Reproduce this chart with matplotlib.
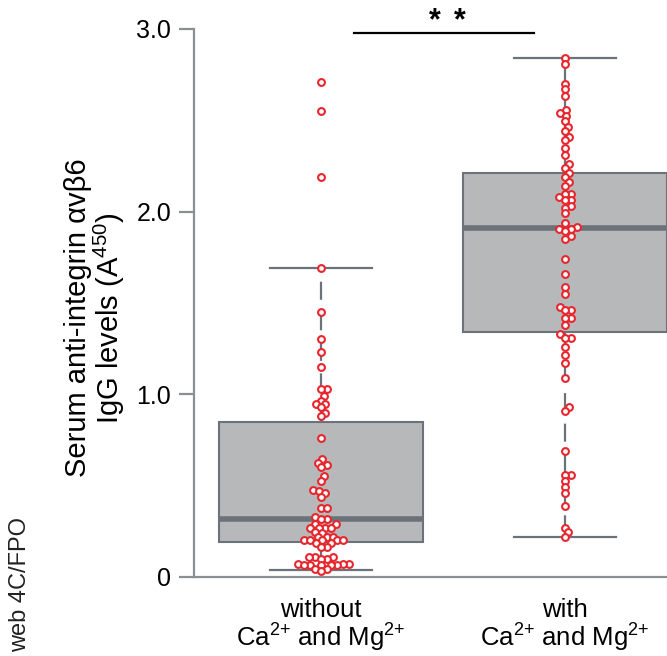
import numpy as np
import matplotlib
matplotlib.use("Agg")
import matplotlib.pyplot as plt

plt.rcParams["font.family"] = ["Liberation Sans", "DejaVu Sans"]
plt.rcParams["mathtext.fontset"] = "custom"
plt.rcParams["mathtext.rm"] = "Liberation Sans"
plt.rcParams["mathtext.it"] = "Liberation Sans:italic"
plt.rcParams["lines.scale_dashes"] = False

# ── Data ────────────────────────────────────────────────────────────────────
groups = ["without\nCa$^{2{+}}$ and Mg$^{2{+}}$", "with\nCa$^{2{+}}$ and Mg$^{2{+}}$"]

without_vals = [2.71, 2.55, 2.19, 1.69, 1.45, 1.30, 1.23, 1.15, 1.03, 1.03, 0.99,
                0.965, 0.947, 0.947, 0.93, 0.90, 0.88, 0.76, 0.645, 0.625, 0.613,
                0.60, 0.554, 0.527, 0.476, 0.47, 0.46, 0.44, 0.378, 0.379, 0.33,
                0.317, 0.317, 0.29, 0.29, 0.268, 0.268, 0.268, 0.268, 0.248, 0.24,
                0.22, 0.22, 0.22, 0.20, 0.20, 0.20, 0.20, 0.20, 0.188, 0.188,
                0.166, 0.166, 0.111, 0.111, 0.111, 0.098, 0.098, 0.071, 0.071,
                0.071, 0.064, 0.064, 0.064, 0.064, 0.064, 0.044, 0.044, 0.033]
with_vals = [2.84, 2.81, 2.70, 2.67, 2.63, 2.555, 2.54, 2.525, 2.496, 2.465, 2.44,
             2.41, 2.39, 2.35, 2.31, 2.26, 2.237, 2.213, 2.19, 2.16, 2.14, 2.095,
             2.095, 2.08, 2.065, 2.065, 2.03, 2.02, 1.99, 1.94, 1.915, 1.905,
             1.905, 1.895, 1.866, 1.85, 1.74, 1.66, 1.59, 1.55, 1.48, 1.46, 1.46,
             1.42, 1.42, 1.38, 1.33, 1.306, 1.306, 1.26, 1.215, 1.17, 1.09, 0.93,
             0.91, 0.69, 0.56, 0.56, 0.527, 0.49, 0.46, 0.39, 0.27, 0.245, 0.22]

# box summary: whislo, q1, median, q3, whishi
box_without = [0.04, 0.19, 0.32, 0.85, 1.69]
box_with = [0.22, 1.34, 1.91, 2.21, 2.84]

yticks = [0, 1.0, 2.0, 3.0]
ytick_labels = ["0", "1.0", "2.0", "3.0"]

# ── Style ────────────────────────────────────────────────────────────────────
BOX_FC = "#b7b8ba"
DARK = "#6b7279"
SPINE = "#8a8f94"
RED = "#e8262e"

fig = plt.figure(figsize=(6.67, 6.56), dpi=100)
ax = fig.add_axes([194 / 667, 1 - 577 / 656, 1 - 194 / 667, 577 / 656])
ax.set_xlim(0.48, 2.418)
ax.set_ylim(0, 577 / 182.7)

stats = []
for b in (box_without, box_with):
    stats.append(dict(whislo=b[0], q1=b[1], med=b[2], q3=b[3], whishi=b[4], fliers=[]))

ax.bxp(stats, positions=[1, 2], widths=0.836, patch_artist=True, showfliers=False,
       boxprops=dict(facecolor=BOX_FC, edgecolor=DARK, linewidth=1.5),
       medianprops=dict(color=DARK, linewidth=4),
       whiskerprops=dict(color=DARK, linewidth=1.6, linestyle=(0, (13, 9))),
       capprops=dict(color=DARK, linewidth=1.6), capwidths=0.42, zorder=1)


def swarm_offsets(vals, min_d_px, px_per_unit_y, px_per_unit_x):
    placed = []
    offs = np.zeros(len(vals))
    order = np.argsort(vals)
    for i in order:
        y = vals[i] * px_per_unit_y
        for k in range(0, 60):
            cands = [0.0] if k == 0 else [k * 1.5, -k * 1.5]
            ok = None
            for c in cands:
                if all((c - px) ** 2 + (y - py) ** 2 >= min_d_px ** 2 for px, py in placed):
                    ok = c
                    break
            if ok is not None:
                break
        placed.append((ok, y))
        offs[i] = ok / px_per_unit_x
    return offs


for pos, vals in zip([1, 2], [without_vals, with_vals]):
    vals = np.array(vals)
    offs = swarm_offsets(vals, 5.4, 182.7, 244.0)
    ax.scatter(pos + offs, vals, s=24, facecolor="white", edgecolor=RED,
               linewidth=1.5, zorder=3, clip_on=False)

# significance bar
ax.plot([1.135, 1.873], [2.98, 2.98], color="black", lw=1.6, clip_on=False)
for sx in (1.465, 1.568):
    ax.text(sx, 3.0, "*", ha="center", va="baseline", fontsize=22,
            fontweight="bold")

for s in ["top", "right"]:
    ax.spines[s].set_visible(False)
for s in ["left", "bottom"]:
    ax.spines[s].set_color(SPINE)
    ax.spines[s].set_linewidth(1.6)
ax.spines["left"].set_bounds(0, 3.0)

ax.set_yticks(yticks)
ax.set_yticklabels(ytick_labels)
ax.tick_params(axis="y", length=11, width=1.6, color=SPINE, labelsize=18, pad=5.5)
ax.set_xticks([1, 2])
ax.set_xticklabels(groups, linespacing=1.0)
ax.tick_params(axis="x", length=0, labelsize=18.5, pad=15)

ax.set_ylabel("Serum anti-integrin αvβ6\nIgG levels (A$^{450}$)", fontsize=21,
              linespacing=1.0)
ax.yaxis.set_label_coords(-0.142, 0.449)

fig.text(0.03, 1 - 584 / 656, "web 4C/FPO", rotation=90, ha="center", va="center",
         fontsize=17, color="#222222")

fig.savefig("out.png", dpi=100)
